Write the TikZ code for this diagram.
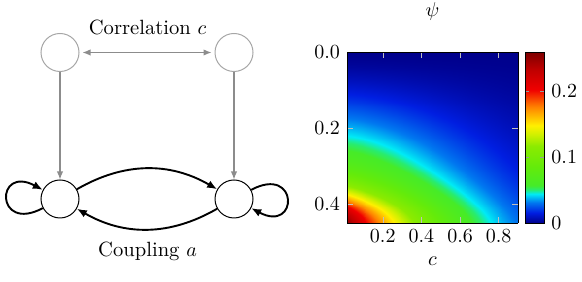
\documentclass[tikz,border=0pt]{standalone}
\usepackage{pgfplots}
\pgfplotsset{compat=1.18}
\usetikzlibrary{arrows.meta}
\pgfplotsset{colormap={psimap}{rgb255(0pt)=(0,0,140); rgb255(6pt)=(0,30,225); rgb255(12pt)=(0,120,240); rgb255(17pt)=(0,235,245); rgb255(19.5pt)=(40,236,110); rgb255(22pt)=(70,235,40); rgb255(33pt)=(100,235,10); rgb255(45pt)=(140,235,0); rgb255(52pt)=(210,240,0); rgb255(57pt)=(255,240,0); rgb255(68pt)=(255,130,0); rgb255(78pt)=(240,0,0); rgb255(90pt)=(190,0,0); rgb255(100pt)=(125,0,0)}}
\tikzset{
  gnode/.style={circle,draw=black!35,line width=0.5pt,minimum size=19pt,inner sep=0pt},
  bnode/.style={circle,draw=black,line width=0.5pt,minimum size=19pt,inner sep=0pt},
  garrow/.style={draw=black!45,line width=0.6pt,-{Latex[length=4pt,width=3.2pt]}},
  gdarrow/.style={draw=black!45,line width=0.6pt,{Latex[length=4pt,width=3.2pt]}-{Latex[length=4pt,width=3.2pt]},shorten <=1.5pt,shorten >=1.5pt},
  barrow/.style={draw=black,line width=0.95pt,-{Latex[length=5pt,width=4pt]}},
  lbl/.style={anchor=base,inner sep=0pt,font=\fontsize{10.3}{12}\selectfont}
}
\begin{document}
\begin{tikzpicture}[x=1pt,y=1pt]
\useasboundingbox (0,0) rectangle (291,141);
% network
\node[gnode] (tl) at (30,114.75) {};
\node[gnode] (tr) at (117,114.75) {};
\node[bnode] (bl) at (30,41.5) {};
\node[bnode] (br) at (117,41.5) {};
\node[lbl] (corr) at (73.8,123.8) {Correlation $c$};
\node[lbl] (coup) at (73.8,12.8) {Coupling $a$};
\draw[gdarrow] (tl) -- (tr);
\draw[garrow] (tl) -- (bl);
\draw[garrow] (tr) -- (br);
\draw[barrow] (bl) to[bend left=30] (br);
\draw[barrow] (br) to[bend left=30] (bl);
\draw[barrow] (bl.208) .. controls +(208:27) and +(152:27) .. (bl.152);
\draw[barrow] (br.28) .. controls +(28:27) and +(-28:27) .. (br.-28);
% heat map
\begin{axis}[at={(173.5pt,29.5pt)}, anchor=south west, scale only axis,
  width=85.5pt, height=85.5pt, view={0}{90},
  xmin=0.015, xmax=0.9, ymin=0, ymax=0.45, y dir=reverse,
  colormap name=psimap, point meta min=0, point meta max=0.26,
  xtick={0.2,0.4,0.6,0.8}, ytick={0,0.2,0.4},
  xticklabel style={/pgf/number format/.cd,fixed,fixed zerofill,precision=1},
  yticklabel style={/pgf/number format/.cd,fixed,fixed zerofill,precision=1},
  tick align=inside, major tick length=3pt, tick style={draw=black!25},
  axis on top, xlabel={$c$},
  title={$\psi$}, title style={at={(0.5,1)},anchor=base,yshift=11.6pt,inner sep=0pt},
  colorbar, colorbar shift/.style={xshift=3.5pt},
  colorbar style={width=9.5pt, height=85.5pt, ytick={0,0.1,0.2}, major tick length=2pt, tick style={draw=black!40}},
]
\addplot3[surf, shader=interp, domain=0.015:0.9, y domain=0:0.45, samples=45, samples y=45] {0.4306*y*sqrt(y)*exp(-1.85*x*sqrt(x)) + 0.13*exp(-156.25*(0.45-y)^2 - 4*x)};
\end{axis}
\end{tikzpicture}
\end{document}
